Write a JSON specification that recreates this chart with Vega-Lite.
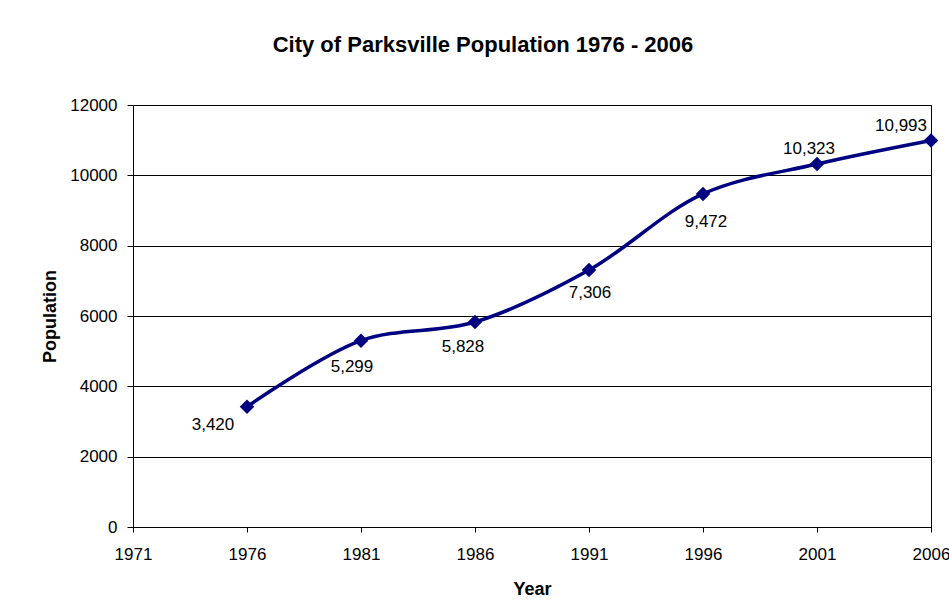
{
  "$schema": "https://vega.github.io/schema/vega-lite/v6.json",
  "width": 798,
  "height": 422,
  "autosize": {"type": "none"},
  "padding": {"left": 133, "top": 105, "right": 18, "bottom": 88},
  "background": "white",
  "title": {
    "text": "City of Parksville Population 1976 - 2006",
    "font": "Liberation Sans",
    "fontSize": 22,
    "fontWeight": "bold",
    "color": "black",
    "anchor": "middle",
    "dx": -49,
    "offset": 39
  },
  "config": {
    "view": {"stroke": "black", "strokeWidth": 1},
    "axis": {
      "labelFont": "Liberation Sans",
      "labelFontSize": 17,
      "labelColor": "black",
      "titleFont": "Liberation Sans",
      "titleFontSize": 18,
      "titleFontWeight": "bold",
      "titleColor": "black",
      "domainColor": "black",
      "tickColor": "black",
      "gridColor": "black",
      "gridOpacity": 1
    }
  },
  "data": {
    "values": [
      {"Year": 1976, "Population": 3420},
      {"Year": 1981, "Population": 5299},
      {"Year": 1986, "Population": 5828},
      {"Year": 1991, "Population": 7306},
      {"Year": 1996, "Population": 9472},
      {"Year": 2001, "Population": 10323},
      {"Year": 2006, "Population": 10993}
    ]
  },
  "encoding": {
    "x": {
      "field": "Year",
      "type": "quantitative",
      "scale": {"domain": [1971, 2006], "nice": false, "zero": false},
      "axis": {"values": [1971, 1976, 1981, 1986, 1991, 1996, 2001, 2006], "format": "d", "grid": false, "tickSize": 5, "labelPadding": 14, "title": "Year", "titleY": 53, "labelFlush": false}
    },
    "y": {
      "field": "Population",
      "type": "quantitative",
      "scale": {"domain": [0, 12000], "nice": false},
      "axis": {"values": [0, 2000, 4000, 6000, 8000, 10000, 12000], "format": "d", "grid": true, "tickSize": 6, "labelPadding": 10, "title": "Population", "titleX": -74}
    }
  },
  "layer": [
    {
      "mark": {"type": "line", "color": "#000080", "strokeWidth": 3.5, "interpolate": "catmull-rom", "clip": false}
    },
    {
      "mark": {"type": "point", "shape": "diamond", "filled": true, "color": "#000080", "opacity": 1, "size": 210, "clip": false}
    },
    {
      "transform": [{"filter": "datum.Year == 1976"}],
      "mark": {"type": "text", "font": "Liberation Sans", "fontSize": 17, "color": "black", "dx": -34, "dy": 18},
      "encoding": {"text": {"field": "Population", "type": "quantitative", "format": ","}}
    },
    {
      "transform": [{"filter": "datum.Year == 1981"}],
      "mark": {"type": "text", "font": "Liberation Sans", "fontSize": 17, "color": "black", "dx": -9, "dy": 26},
      "encoding": {"text": {"field": "Population", "type": "quantitative", "format": ","}}
    },
    {
      "transform": [{"filter": "datum.Year == 1986"}],
      "mark": {"type": "text", "font": "Liberation Sans", "fontSize": 17, "color": "black", "dx": -12, "dy": 25},
      "encoding": {"text": {"field": "Population", "type": "quantitative", "format": ","}}
    },
    {
      "transform": [{"filter": "datum.Year == 1991"}],
      "mark": {"type": "text", "font": "Liberation Sans", "fontSize": 17, "color": "black", "dx": 1, "dy": 23},
      "encoding": {"text": {"field": "Population", "type": "quantitative", "format": ","}}
    },
    {
      "transform": [{"filter": "datum.Year == 1996"}],
      "mark": {"type": "text", "font": "Liberation Sans", "fontSize": 17, "color": "black", "dx": 3, "dy": 28},
      "encoding": {"text": {"field": "Population", "type": "quantitative", "format": ","}}
    },
    {
      "transform": [{"filter": "datum.Year == 2001"}],
      "mark": {"type": "text", "font": "Liberation Sans", "fontSize": 17, "color": "black", "dx": -8, "dy": -15},
      "encoding": {"text": {"field": "Population", "type": "quantitative", "format": ","}}
    },
    {
      "transform": [{"filter": "datum.Year == 2006"}],
      "mark": {"type": "text", "font": "Liberation Sans", "fontSize": 17, "color": "black", "dx": -30, "dy": -14},
      "encoding": {"text": {"field": "Population", "type": "quantitative", "format": ","}}
    }
  ]
}
